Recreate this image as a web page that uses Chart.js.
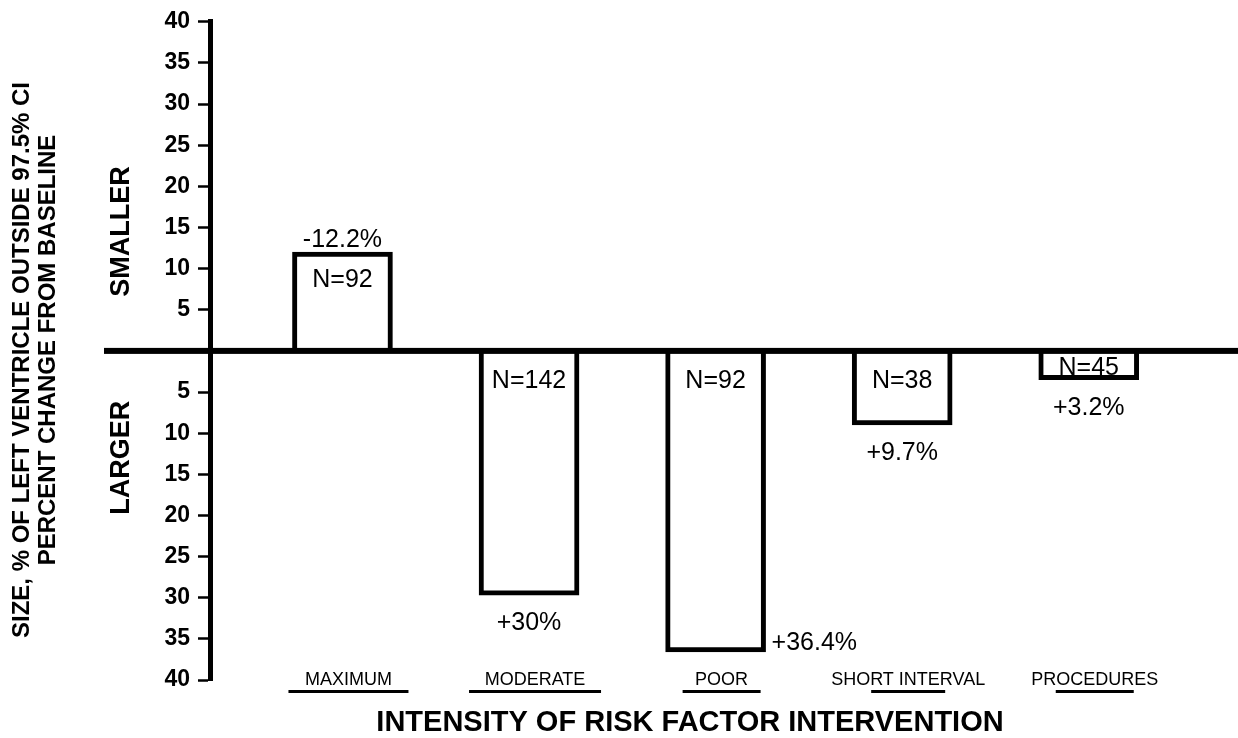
<!DOCTYPE html>
<html>
<head>
<meta charset="utf-8">
<script src="https://cdn.jsdelivr.net/npm/chart.js@4.4.1/dist/chart.umd.min.js"></script>
<style>
  html, body { margin: 0; background: #fff; }
  #wrap { width: 1238px; height: 738px; position: relative; }
</style>
</head>
<body>
<div id="wrap"><canvas id="chartCanvas"></canvas></div>
<script>
const categories = ["MAXIMUM", "MODERATE", "POOR", "SHORT INTERVAL", "PROCEDURES"];
// positive = smaller, negative = larger
const sizeChange = [12.0, -29.7, -36.6, -9.0, -3.5];
const groupN = [92, 142, 92, 38, 45];
const changeLabels = ["-12.2%", "+30%", "+36.4%", "+9.7%", "+3.2%"];
const underlineWidths = [120, 132, 78, 74, 78];

const FONT = '"Liberation Sans", Arial, Helvetica, sans-serif';

// extra text: zero line, y titles, bar labels, categories, x title
const annotations = {
  id: "annotations",
  afterDatasetsDraw(chart) {
    const ctx = chart.ctx;
    const area = chart.chartArea;
    const yScale = chart.scales.y;
    const zeroY = yScale.getPixelForValue(0);
    ctx.save();
    ctx.fillStyle = "#000";

    // baseline across the whole figure
    ctx.fillRect(104, zeroY - 3, chart.width - 104, 6);

    const bars = chart.getDatasetMeta(0).data;
    ctx.font = "25px " + FONT;
    ctx.textBaseline = "alphabetic";
    bars.forEach((bar, i) => {
      const v = sizeChange[i];
      const top = Math.min(bar.y, bar.base);
      const bottom = Math.max(bar.y, bar.base);
      ctx.textAlign = "center";
      if (v > 0) {
        ctx.fillText("N=" + groupN[i], bar.x, top + 35);
        ctx.fillText(changeLabels[i], bar.x, top - 5);
      } else {
        const mid = (top + bottom) / 2;
        ctx.fillText("N=" + groupN[i], bar.x, Math.min(zeroY + 37, mid + 9));
        if (bottom + 35 > area.bottom - 20) {
          ctx.textAlign = "left";
          ctx.fillText(changeLabels[i], bar.x + bar.width / 2 + 6, bottom - 2);
        } else {
          ctx.fillText(changeLabels[i], bar.x, bottom + 35);
        }
      }
    });

    // category labels with underlines
    ctx.font = "18px " + FONT;
    ctx.textAlign = "center";
    bars.forEach((bar, i) => {
      const cx = bar.x + 6;
      ctx.fillText(categories[i], cx, area.bottom + 5);
      ctx.fillRect(cx - underlineWidths[i] / 2, area.bottom + 10, underlineWidths[i], 3);
    });

    // x title
    ctx.font = "bold 29px " + FONT;
    ctx.fillText("INTENSITY OF RISK FACTOR INTERVENTION", 690, 731);

    // rotated y titles
    const vText = (text, x, y, font) => {
      ctx.save();
      ctx.translate(x, y);
      ctx.rotate(-Math.PI / 2);
      ctx.font = font;
      ctx.textAlign = "center";
      ctx.textBaseline = "middle";
      ctx.fillText(text, 0, 0);
      ctx.restore();
    };
    vText("SIZE, % OF LEFT VENTRICLE OUTSIDE 97.5% CI", 22, 360, "bold 24px " + FONT);
    vText("PERCENT CHANGE FROM BASELINE", 48, 350, "bold 24px " + FONT);
    vText("SMALLER", 122, yScale.getPixelForValue(14.5), "bold 27px " + FONT);
    vText("LARGER", 122, yScale.getPixelForValue(-13), "bold 27px " + FONT);
    ctx.restore();
  }
};

const ctx = document.getElementById("chartCanvas").getContext("2d");
new Chart(ctx, {
  type: "bar",
  data: {
    datasets: [{
      data: sizeChange.map((v, i) => ({ x: i, y: v })),
      backgroundColor: "#fff",
      borderColor: "#000",
      borderWidth: 5,
      borderSkipped: "start",
      barThickness: 100
    }]
  },
  options: {
    responsive: true,
    maintainAspectRatio: false,
    animation: false,
    layout: { padding: { top: 19, bottom: 58, left: 0, right: 0 } },
    plugins: { legend: { display: false }, tooltip: { enabled: false } },
    scales: {
      x: {
        type: "linear",
        display: false,
        offset: false,
        min: -0.71,
        max: 4.8
      },
      y: {
        min: -40,
        max: 40,
        afterFit(scale) { scale.width = 210; },
        border: { display: true, color: "#000", width: 5 },
        grid: {
          drawOnChartArea: false,
          drawTicks: true,
          tickLength: 12,
          tickColor: "#000",
          tickWidth: 2.5
        },
        ticks: {
          stepSize: 5,
          padding: 8,
          color: "#000",
          font: { family: FONT, size: 23, weight: "bold" },
          callback: v => (v === 0 ? "" : Math.abs(v))
        }
      }
    }
  },
  plugins: [annotations]
});
</script>
</body>
</html>
